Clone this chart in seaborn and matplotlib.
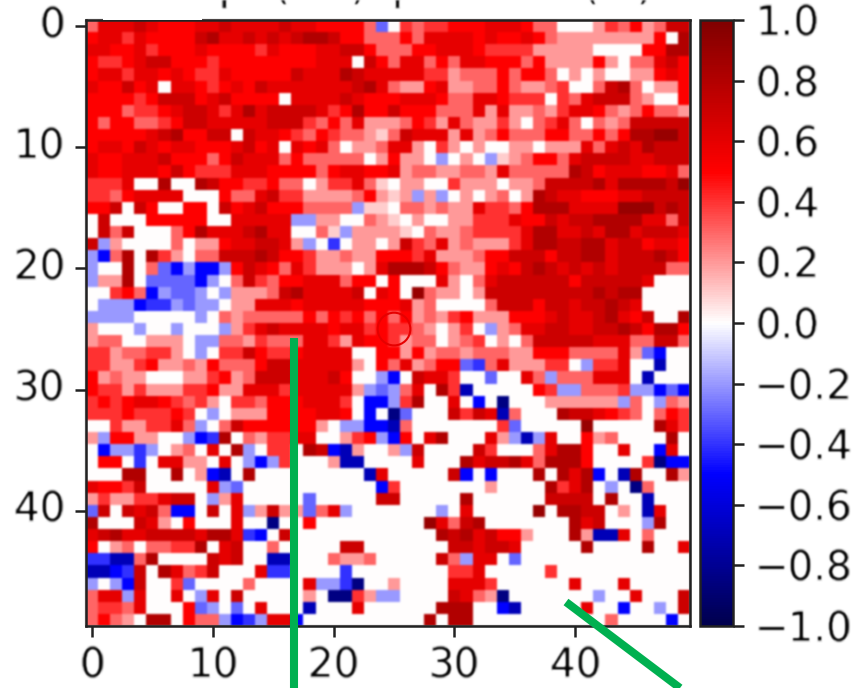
import numpy as np
import matplotlib
matplotlib.use('Agg')
import matplotlib.pyplot as plt
from matplotlib.lines import Line2D
from matplotlib.patches import Rectangle
import seaborn as sns

# cell values, one char per cell, columns 0-24 and 25-49
# digits are tenths, letters are negatives, . is zero
rows_left = [
    "36667 65556 67666 67665 5553c", "56646 55557 86676 76788 75533",
    "66556 45556 55554 65556 67753", "54456 77555 45555 55556 66.75",
    "56646 65654 46555 55766 68766", "65575 6.665 45657 66666 66786",
    "55554 57775 67555 5.666 67655", "55534 45677 64686 77776 45855",
    "53553 34577 66666 77743 53622", "55555 67855 77.76 65435 43321",
    "56657 65665 55675 6.656 3.223", "65566 67555 35766 63533 333.2",
    "65566 65754 44666 55553 56655", "4446. .8..8 75544 533.2 44631",
    "44356 666.. .5336 74422 22352", "557.7 5..55 .7567 55533 33b11",
    ".7... 55555 ..666 66bb2 2..32", ".737. ..358 66678 66..3 1b222",
    "7b2.. ..3.2 25667 762b. d.22.", "bg38. 842.3 37778 75542 23225",
    "b..8. 3cfbf fb576 53642 22.26", "b228. ccccf b.374 35566 6355.",
    "..453 fbccb .b222 37866 667.6", ".bbbf ddbcb b.226 66566 66655",
    "bbbb. ....b .3233 33353 54535", "2...b ..b.. .b246 76666 56645",
    "233.. 222.b b3324 33366 42655", "44233 442.b .4475 44566 66..5",
    "44224 52232 53335 77666 662.5", "52322 ...22 45237 77666 75..b",
    "54424 22244 52266 64666 662bc", "45456 65434 2.443 55566 64.fg",
    "44454 4454. b.222 55556 65.f.", "..422 4463b .3755 55552 .bbfg",
    "2b552 2..bf d8.32 4466. .245b", ".fbbd b.23. 6.8b. 44.87 fh2..",
    ".55.d .6622 .6.bg b4... 2hh..", "...88 ..8.2 fh.8. ..... ...h6",
    "65547 ..... 6bc.. ..... ....g", "24224 4677. b26.. ...c. ....7",
    "c7.76 73ff. 7.6b2 722c3 6b...", "8...7 62.5. ..6.. i..5. .....",
    "67866 77776 886dg .7... .....", "5.23. 33448 .67.. 3.... .77..",
    "ddhh3 8.... 767.. hh... 3223.", "hhgd7 .8634 7...6 dd... .d...",
    "b.bg7 ..4c. ...3. ...6b bdi..", "366b6 ..6.b 6.7.. ...2. ii42b",
    "34436 ...5c b.c.6 ...h. ..6..", "3532. 88.53 3bfdb 66g.. .....",
]
rows_right = [
    ".4344 55566 6533. ..243 52377", "35366 66565 56532 22222 225.8",
    "33556 66544 44222 22... .5588", "36635 36655 53522 2252. 33675",
    "66644 23335 3553. 2.2.. 22565", "32256 22335 32234 ..378 3.225",
    "56665 33665 444.4 36777 32..5", "75553 33626 22324 66532 35332",
    "23542 63224 2.346 3.323 77777", "37666 26235 33355 33535 88997",
    "662.4 2.2.. 22.22 26367 68777", "522.b .2.b1 23553 67777 66777",
    "62332 23326 33333 87566 65563", ".22.. 4222. 22377 77868 88879",
    "12b2b .2.23 .2876 65556 67777", ".3323 22644 35888 66669 99787",
    "1.2.. 22444 65576 77888 86637", "21.32 23444 46886 67688 67776",
    "27436 23222 46887 78867 75665", "55462 22355 77757 78867 77875",
    "88875 32256 57876 76767 77733", "5...6 2.367 77777 57777 76...",
    "5.932 2.277 77777 77878 8....", "5623. ...37 77577 67787 6....",
    "35232 45222 55567 66786 57..8", "4432. 24.b2 36677 66778 75885",
    "4233. 234.2 .3777 77666 33773", "52523 32333 22555 33336 2cf..",
    "36235 5cd36 22244 .b446 ..h..", "g.766 4..c. .63b3 33666 .h...",
    "b36.8 4h... ..54b b3334 bbfcf", "b48.. 6.f.i ...22 2222b 3.b32",
    "ic... 7476h 3...8 77654 3.354", "h3... ....4 c.... .9... ..864",
    "g5.68 ...62 bhb6. .523. ...8.", "2b7.. ..74. ..368 85..6 ..g6.",
    "..6.. .8677 86388 85... .4igg", "..... 7g.f. ..8.8 68f.h 8..82",
    "4.... ...2. ...84 68.b. i3...", "7.... .8... ...77 77.8. .h...",
    "....b .6... ..9.8 877.2 .h6..", "...96 378.. ..... 867.. .b8..",
    "....8 78675 52... 82hh6 .3...", "..... 77677 6.... .8... .8..6",
    "....7 3b66. c.... ..... .....", "..... 446.. ...4. ..... .....",
    "2.... 6664. ..... 6...6 .....", "b.... 7632i ..... ..b.. 6...7",
    "....8 88..g h.... .6..f ..b.7", "...8. 88... ..... ...3. ...g.",
]
negatives = {'a': -0.1, 'b': -0.2, 'c': -0.3, 'd': -0.4, 'f': -0.5,
             'g': -0.5, 'h': -0.7, 'i': -0.85}
cbar_ticks = [-1.0, -0.8, -0.6, -0.4, -0.2, 0.0, 0.2, 0.4, 0.6, 0.8, 1.0]
title_text = 'pr (cm)  pr  > 2.5 (%)'


def decode(ch):
    if ch == '.':
        return 0.0
    if ch.isdigit():
        return int(ch) / 10
    return negatives[ch]


def soften(image, dpi):
    # the reference is an upscaled picture, so everything in it is a bit soft
    pad = 4
    out = np.pad(image, ((pad, pad), (pad, pad), (0, 0)))
    kernel = np.array([1, 4, 6, 4, 1]) / 16
    for axis in (0, 1):
        out = np.apply_along_axis(np.convolve, axis, out, kernel, mode='same')
    return out, -pad, -pad


grid = np.array([[decode(c) for c in (l + r).replace(' ', '')]
                 for l, r in zip(rows_left, rows_right)])

W, H = 855, 688
green = '#00b050'
tick_size = 29

fig = plt.figure(figsize=(W / 100, H / 100), dpi=100)
ax = fig.add_axes([86 / W, 1 - 626 / H, 604 / W, 606 / H])
cax = fig.add_axes([700 / W, 1 - 626 / H, 33 / W, 606 / H])

sns.heatmap(grid, ax=ax, cbar_ax=cax, cmap='seismic', vmin=-1, vmax=1,
            xticklabels=10, yticklabels=10, cbar_kws={'ticks': cbar_ticks})

ax.tick_params(labelsize=tick_size, length=8, width=1.8, color='#222222',
               labelcolor='black', pad=7)
ax.tick_params(axis='y', labelrotation=0)
ax.tick_params(axis='x', labelrotation=0)
for s in ax.spines.values():
    s.set_visible(True)
    s.set_linewidth(1.8)
    s.set_color('#222222')

cax.tick_params(labelsize=tick_size, length=8, width=1.8, color='#222222',
                labelcolor='black', pad=8)
cb = ax.collections[0].colorbar
cb.outline.set_visible(True)
cb.outline.set_linewidth(1.8)
cb.outline.set_edgecolor('#222222')

# red ring on the centre cell
ax.add_patch(plt.Circle((25.5, 25.5), 1.35, fill=False, ec='#e60000', lw=1.5))

title = fig.text(219 / W, 1 + 1 / H, title_text, fontsize=tick_size,
                 color='black', ha='left', va='baseline')

ax.collections[0].set_agg_filter(soften)
for t in ax.get_xticklabels() + ax.get_yticklabels() + cax.get_yticklabels():
    t.set_agg_filter(soften)
title.set_agg_filter(soften)

# annotations laid over the figure
fig.add_artist(Line2D([294 / W, 294 / W], [1 - 338 / H, 0], color=green,
                      lw=5.8, solid_capstyle='butt'))
fig.add_artist(Line2D([566 / W, 680 / W], [1 - 602 / H, 0], color=green,
                      lw=5.8, solid_capstyle='butt'))
fig.add_artist(Rectangle((103 / W, 1 - 20 / H), 99 / W, 8 / H, color='white',
                         lw=0))

fig.savefig('out.png', dpi=100)
